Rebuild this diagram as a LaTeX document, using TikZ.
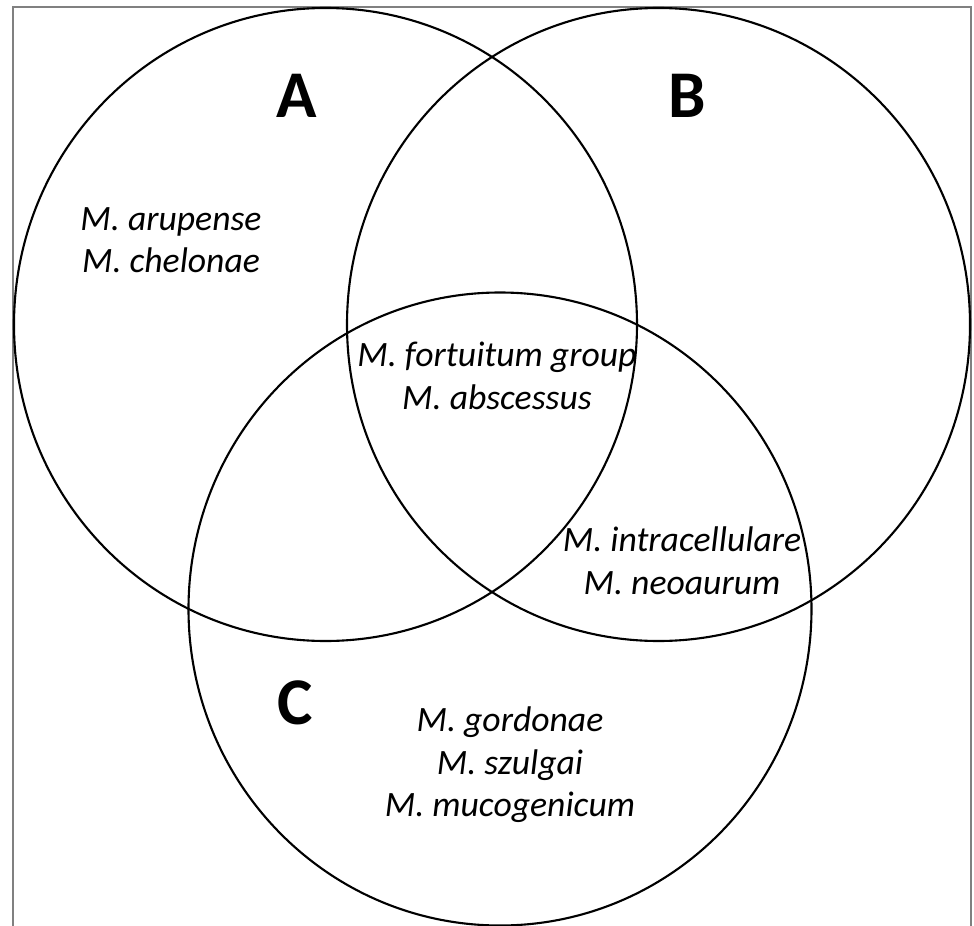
\documentclass[tikz,border=0pt]{standalone}
\usepackage{fontspec}
\setmainfont{Carlito}
\usetikzlibrary{shapes.geometric, positioning}

\tikzset{
  setshape/.style={draw, ellipse, line width=1.2pt, inner sep=0pt},
  setname/.style={font=\fontsize{38}{44}\selectfont\bfseries, inner sep=0pt},
  species/.style={font=\fontsize{20.3}{24.2}\selectfont\itshape, align=center, inner sep=0pt}
}

\begin{document}
\begin{tikzpicture}[x=0.02cm, y=0.02cm]
  \newcommand\setwidth{623}  % 0.02cm per px
  \newcommand\setheight{633}

  \useasboundingbox (0, 0) rectangle (974, -926);

  % frame (open at the bottom)
  \coordinate (frameBL) at (13, -926);
  \coordinate (frameTL) at (13, -7);
  \coordinate (frameTR) at (971, -7);
  \coordinate (frameBR) at (971, -926);
  \draw[black!50, line width=1.5pt] (frameBL) -- (frameTL) -- (frameTR) -- (frameBR);

  % the three sets
  \node[setshape, minimum width=\setwidth*0.02cm, minimum height=\setheight*0.02cm] (setA) at (325.5, -324.5) {};
  \node[setshape, minimum width=\setwidth*0.02cm, minimum height=\setheight*0.02cm] (setB) at (658.5, -324.5) {};
  \node[setshape, minimum width=\setwidth*0.02cm, minimum height=\setheight*0.02cm] (setC) at (500, -609) {};

  \node[setname] (nameA) at (297, -96) {A};
  \node[setname] (nameB) at (687, -96) {B};
  \node[setname] (nameC) at (295, -703) {C};

  % members
  \node[species] (onlyA) at (171, -240) {M. arupense\\M. chelonae};
  \node[species] (allABC) at (497, -376) {M. fortuitum group\\M. abscessus};
  \node[species] (onlyBC) at (682, -561) {M. intracellulare\\M. neoaurum};
  \node[species] (onlyC) at (510, -765) {M. gordonae\\M. szulgai\\M. mucogenicum};
\end{tikzpicture}
\end{document}
